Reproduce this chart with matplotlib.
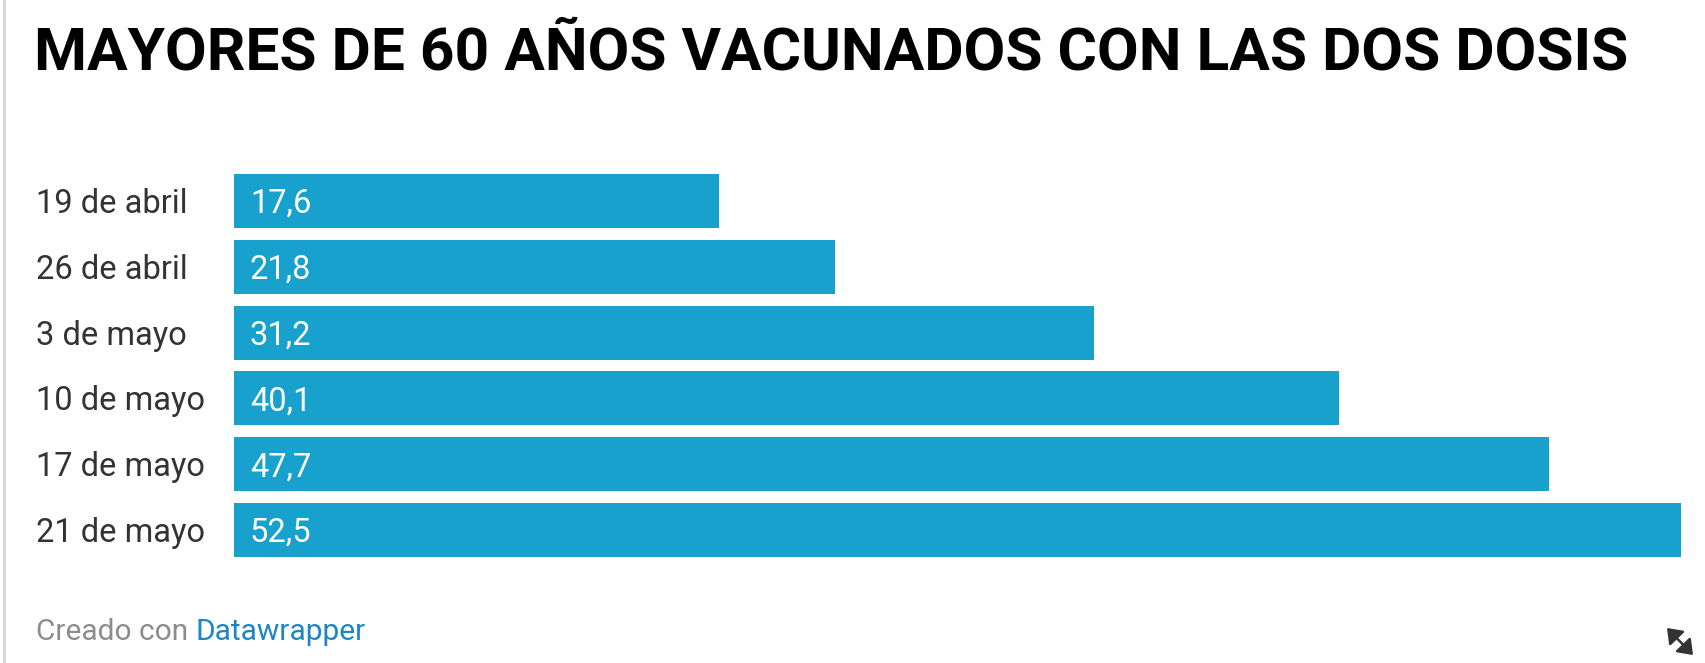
import matplotlib
matplotlib.use('Agg')
import matplotlib.pyplot as plt
import matplotlib.transforms as mtransforms
from matplotlib.lines import Line2D
from matplotlib.patches import FancyArrowPatch

plt.rcParams['font.family'] = ['Roboto', 'DejaVu Sans']

# data
fechas = ['19 de abril', '26 de abril', '3 de mayo', '10 de mayo', '17 de mayo', '21 de mayo']
valores = [17.6, 21.8, 31.2, 40.1, 47.7, 52.5]
titulo = 'MAYORES DE 60 AÑOS VACUNADOS CON LAS DOS DOSIS'

W, H = 1706, 663
BAR_COLOR = '#18a1cd'

fig = plt.figure(figsize=(W / 100, H / 100), dpi=100)


def fx(px):
    return px / W


def fy(py):
    return 1 - py / H


# thin gray frame line on the left edge
fig.add_artist(Line2D([fx(4), fx(4)], [0, 1], color='#d4d4d4', lw=2))

# title (reference font is a bit condensed, so size is set to match its width)
fig.text(fx(34), fy(70), titulo, fontsize=43.5, fontweight='bold',
         color='#000000', va='baseline', ha='left')

# bar area: 234..1681 px wide, 174..557 px tall
ax = fig.add_axes([fx(234), fy(557), fx(1681) - fx(234), (557 - 174) / H])
n = len(valores)
bh = 54 / 66
ax.barh(range(n), valores, height=bh, color=BAR_COLOR)
ax.set_xlim(0, max(valores))
ax.set_ylim(n - 1 + bh / 2, -bh / 2)
ax.axis('off')

lab_tr = mtransforms.blended_transform_factory(fig.transFigure, ax.transData)
off = mtransforms.offset_copy(lab_tr, fig=fig, y=-12, units='dots')
val_tr = mtransforms.offset_copy(ax.transData, fig=fig, x=16, y=-12, units='dots')
for i, (f, v) in enumerate(zip(fechas, valores)):
    ax.text(fx(36), i, f, transform=off, fontsize=23.5, color='#333333',
            ha='left', va='baseline')
    ax.text(0, i, f'{v:.1f}'.replace('.', ','), transform=val_tr, fontsize=23.5,
            color='white', ha='left', va='baseline')

# footer
t1 = fig.text(fx(36), fy(640), 'Creado con ', fontsize=21.5, color='#8c8c8c',
              va='baseline', ha='left')
fig.canvas.draw()
bb = t1.get_window_extent()
fig.text(bb.x1 / W, fy(640), 'Datawrapper', fontsize=21.5, color='#1d84c6',
         va='baseline', ha='left')

# resize icon
fig.add_artist(FancyArrowPatch(
    (fx(1667), fy(628)), (fx(1693), fy(655)), transform=fig.transFigure,
    arrowstyle='<|-|>,head_length=0.6,head_width=0.45', mutation_scale=14,
    color='#333333', lw=1.8, shrinkA=0, shrinkB=0))

fig.savefig('out.png', dpi=100, facecolor='white')
